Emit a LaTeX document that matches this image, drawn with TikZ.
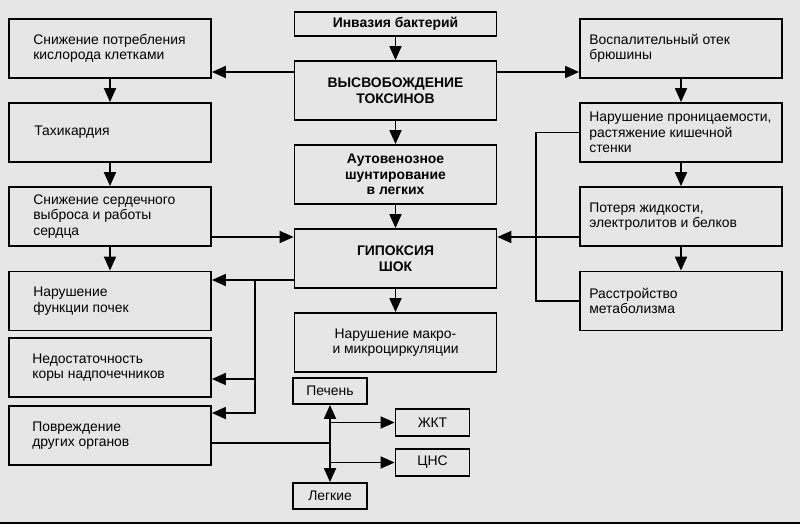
\documentclass[tikz,border=0pt]{standalone}
\usepackage{fontspec}
\setmainfont{Liberation Sans}
\usetikzlibrary{arrows.meta}
\definecolor{bg}{RGB}{230,230,230}
\newcommand\dfont{\fontsize{13.9pt}{15.5pt}\selectfont}
\begin{document}
\begin{tikzpicture}[x=1pt,y=-1pt,
  box/.style={draw=black, line width=1.8pt, minimum width=202pt, minimum height=59pt, inner sep=0pt, align=center, font=\dfont},
  bbox/.style={box, font=\dfont\bfseries},
  sbox/.style={draw=black, line width=1.8pt, minimum width=74pt, minimum height=26pt, inner sep=0pt, font=\dfont},
  txt/.style={anchor=west, align=left, inner sep=0pt, font=\dfont},
  arr/.style={line width=1.8pt, -{Triangle[length=14pt,width=12pt]}},
  ln/.style={line width=1.8pt}]
\fill[bg] (0,0) rectangle (800,524);
\useasboundingbox (0,0) rectangle (800,524);
\fill[black] (0,521.7) rectangle (800,524);

% centre column
\node[bbox, minimum height=24pt] (C1) at (395.5,24) {Инвазия бактерий};
\node[bbox] (C2) at (395.5,90.5) {ВЫСВОБОЖДЕНИЕ\\ТОКСИНОВ};
\node[bbox] (C3) at (395.5,174.5) {Аутовенозное\\шунтирование\\в легких};
\node[bbox] (C4) at (395.5,258.5) {ГИПОКСИЯ\\ШОК};
\node[box] (C5) at (395.5,342.5) {Нарушение макро-\\и микроциркуляции};

% left column
\node[box] (L1) at (110,48.5) {};
\node[txt] (L1t) at ([xshift=25pt]L1.west) {Снижение потребления\\кислорода клетками};
\node[box] (L2) at (110,132.5) {};
\node[txt] (L2t) at ([xshift=26pt]L2.west) {Тахикардия};
\node[box] (L3) at (110,216.5) {};
\node[txt] (L3t) at ([xshift=25pt]L3.west) {Снижение сердечного\\выброса и работы\\сердца};
\node[box] (L4) at (110,301) {};
\node[txt] (L4t) at ([xshift=25pt]L4.west) {Нарушение\\функции почек};
\node[box] (L5) at (110,367.5) {};
\node[txt] (L5t) at ([xshift=24pt]L5.west) {Недостаточность\\коры надпочечников};
\node[box] (L6) at (110,435.5) {};
\node[txt] (L6t) at ([xshift=24pt]L6.west) {Повреждение\\других органов};

% right column
\node[box] (R1) at (681,48.5) {};
\node[txt] (R1t) at ([xshift=10pt]R1.west) {Воспалительный отек\\брюшины};
\node[box] (R2) at (681,132.5) {};
\node[txt] (R2t) at ([xshift=10pt]R2.west) {Нарушение проницаемости,\\растяжение кишечной\\стенки};
\node[box] (R3) at (681,216.5) {};
\node[txt] (R3t) at ([xshift=10pt]R3.west) {Потеря жидкости,\\электролитов и белков};
\node[box] (R4) at (681,301) {};
\node[txt] (R4t) at ([xshift=10pt]R4.west) {Расстройство\\метаболизма};

% small boxes
\node[sbox] (PE) at (330,391) {Печень};
\node[sbox] (LE) at (330,496) {Легкие};
\node[sbox, minimum height=27pt] (ZK) at (432.5,422.5) {ЖКТ};
\node[sbox, minimum height=27pt] (CN) at (432.5,462.5) {ЦНС};

% vertical chains
\draw[arr] (C1) -- (C2);
\draw[arr] (C2) -- (C3);
\draw[arr] (C3) -- (C4);
\draw[arr] (C4) -- (C5);
\draw[arr] (L1) -- (L2);
\draw[arr] (L2) -- (L3);
\draw[arr] (L3) -- (L4);
\draw[arr] (R1) -- (R2);
\draw[arr] (R2) -- (R3);
\draw[arr] (R3) -- (R4);

% toxins to sides
\draw[arr] ([yshift=18.5pt]C2.west) -- ([yshift=18.5pt]C2.west -| L1.east);
\draw[arr] ([yshift=18.5pt]C2.east) -- ([yshift=18.5pt]C2.east -| R1.west);

% into shock
\draw[arr] ([yshift=-20.5pt]L3.east) -- ([yshift=-20.5pt]L3.east -| C4.west);
\draw[arr] ([yshift=-20.5pt]R3.west) -- ([yshift=-20.5pt]R3.west -| C4.east);
\draw[ln] (R2.west) -- ++(-43,0) |- (R4.west);

% shock to organs
\coordinate (B) at (255,280);
\draw[arr] ([yshift=-21.5pt]C4.west) -- ([yshift=-21.5pt]C4.west -| L4.east);
\draw[arr] (B) |- ([yshift=-11.5pt]L5.east);
\draw[arr] (B) |- ([yshift=22.5pt]L6.east);

% other organs
\coordinate (J) at (330,443);
\draw[ln] ([yshift=-7.5pt]L6.east) -- (J);
\draw[arr] (J) -- (PE.south);
\draw[arr] (J) -- (LE.north);
\draw[arr] (J |- ZK.west) -- (ZK.west);
\draw[arr] (J |- CN.west) -- (CN.west);
\end{tikzpicture}
\end{document}
